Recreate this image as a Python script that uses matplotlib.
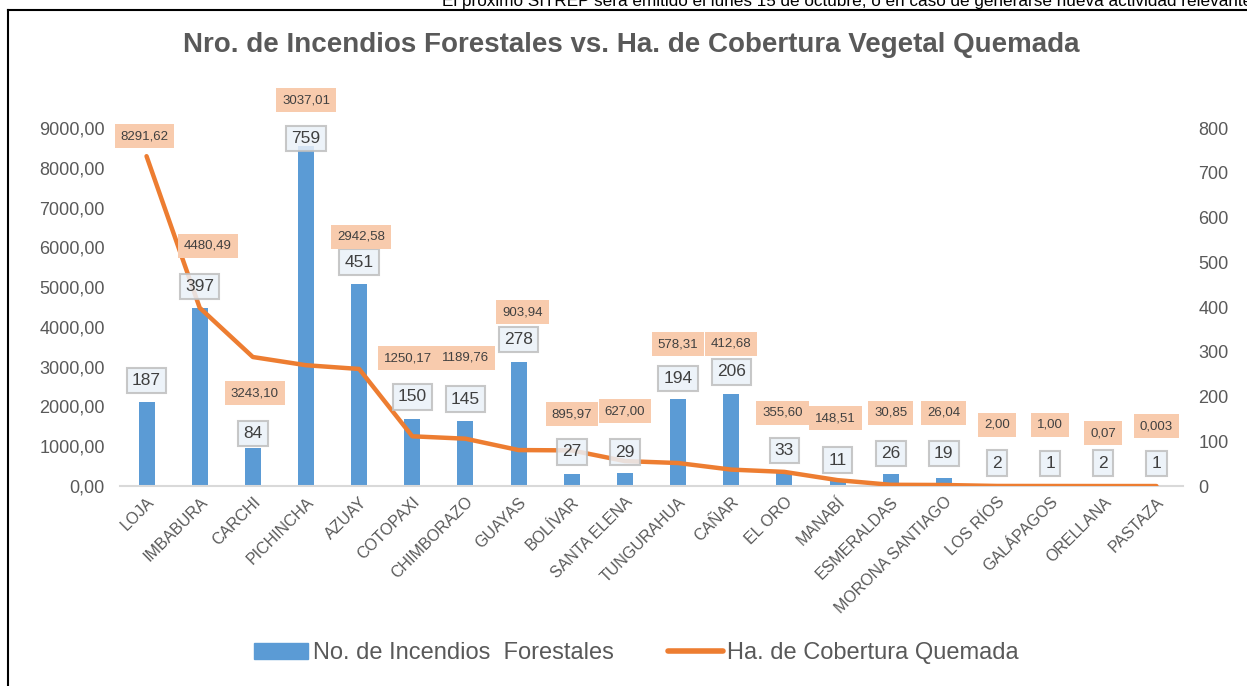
import matplotlib.pyplot as plt
from matplotlib.lines import Line2D
from matplotlib.patches import Patch
from matplotlib.ticker import FuncFormatter, MultipleLocator

plt.rcParams['font.family'] = ['Liberation Sans', 'DejaVu Sans']

provincias = ['LOJA', 'IMBABURA', 'CARCHI', 'PICHINCHA', 'AZUAY', 'COTOPAXI',
              'CHIMBORAZO', 'GUAYAS', 'BOLÍVAR', 'SANTA ELENA', 'TUNGURAHUA',
              'CAÑAR', 'EL ORO', 'MANABÍ', 'ESMERALDAS', 'MORONA SANTIAGO',
              'LOS RÍOS', 'GALÁPAGOS', 'ORELLANA', 'PASTAZA']
incendios = [187, 397, 84, 759, 451, 150, 145, 278, 27, 29, 194, 206, 33, 11,
             26, 19, 2, 1, 2, 1]
hectareas = [8291.62, 4480.49, 3243.10, 3037.01, 2942.58, 1250.17, 1189.76,
             903.94, 895.97, 627.00, 578.31, 412.68, 355.60, 148.51, 30.85,
             26.04, 2.00, 1.00, 0.07, 0.003]

# label offsets in pixels (layout only)
ha_dy = [20, 62, -36, 265, 132, 78, 81, 138, 36, 50, 119, 126, 59, 62, 72, 72,
         61, 61, 53, 60]
ha_dx = [-2, 8, 2, 0, 2, -4, 0, 4, 0, 0, 0, 0, -2, -2, 0, 0, 0, 0, 0, 0]
bar_dy = [22, 22, 15, 8, 22, 22, 22, 22, 22, 21, 21, 22, 21, 21, 21, 24, 22,
          22, 22, 22]

blue = '#5B9BD5'
orange = '#ED7D31'
grey = '#595959'


def fmt_ha(v):
    s = f'{v:.3f}' if v < 0.01 else f'{v:.2f}'
    return s.replace('.', ',')


fig = plt.figure(figsize=(12.47, 6.86), dpi=100)
ax = fig.add_axes([0.0962, 0.2915, 0.8525, 0.5219])
ax2 = ax.twinx()

x = list(range(len(provincias)))
ax.bar(x, incendios, width=0.3, color=blue, zorder=2)
ax.set_ylim(0, 800)
ax.set_xlim(-0.5, len(provincias) - 0.5)
ax.yaxis.set_major_locator(MultipleLocator(100))
ax.yaxis.tick_right()

ax2.plot(x, hectareas, color=orange, lw=3.2, solid_capstyle='round', zorder=3)
ax2.set_ylim(0, 9000)
ax2.yaxis.set_major_locator(MultipleLocator(1000))
ax2.yaxis.set_major_formatter(FuncFormatter(lambda v, p: f'{v:.2f}'.replace('.', ',')))
ax2.yaxis.tick_left()

for a in (ax, ax2):
    for s in a.spines.values():
        s.set_visible(False)
    a.tick_params(axis='y', length=0, labelsize=13, labelcolor=grey, pad=11)
ax.spines['bottom'].set_visible(True)
ax.spines['bottom'].set_color('#D9D9D9')
ax.spines['bottom'].set_linewidth(1.5)

ax.set_xticks(x)
ax.set_xticklabels(provincias, rotation=45, ha='right', rotation_mode='anchor',
                   fontsize=11.5, color=grey)
ax.tick_params(axis='x', length=0, pad=6)

for i in x:
    ax2.annotate(str(incendios[i]), xy=(i, incendios[i]), xycoords=ax.transData,
                 xytext=(0, bar_dy[i] * 0.72), textcoords='offset points',
                 ha='center', va='center', fontsize=12.5, color='#404040', zorder=4,
                 bbox=dict(boxstyle='square,pad=0.3', fc='#EAF1F9', ec='#BFBFBF',
                           lw=1.5, alpha=0.85))
for i in x:
    ax2.annotate(fmt_ha(hectareas[i]), xy=(i, hectareas[i]),
                 xytext=(ha_dx[i] * 0.72, ha_dy[i] * 0.72), textcoords='offset points',
                 ha='center', va='center', fontsize=9.5, color='#404040', zorder=5,
                 bbox=dict(boxstyle='square,pad=0.45', fc='#F8CBAD', ec='none'))

fig.text(0.506, 0.934, 'Nro. de Incendios Forestales vs. Ha. de Cobertura Vegetal Quemada',
         ha='center', va='center', fontsize=20, fontweight='bold', color=grey)

fig.text(442 / 1247, 1 - 6 / 686,
         'El próximo SITREP será emitido el lunes 15 de octubre, o en caso de generarse nueva actividad relevante',
         ha='left', va='baseline', fontsize=12.3, color='black')

# chart frame
fig.add_artist(Line2D([8 / 1247, 8 / 1247], [0, 1 - 10 / 686], transform=fig.transFigure,
                      color='black', lw=1.5))
fig.add_artist(Line2D([8 / 1247, 1], [1 - 10 / 686, 1 - 10 / 686], transform=fig.transFigure,
                      color='black', lw=1.5))

handles = [Patch(color=blue), Line2D([0], [0], color=orange, lw=4, solid_capstyle='round')]
fig.legend(handles, ['No. de Incendios  Forestales', 'Ha. de Cobertura Quemada'],
           loc='center', bbox_to_anchor=(0.5104, 0.048), ncol=2, frameon=False,
           fontsize=17, handlelength=2.3, handletextpad=0.2, columnspacing=2.3,
           labelcolor=grey)

fig.savefig('out.png', dpi=100)
